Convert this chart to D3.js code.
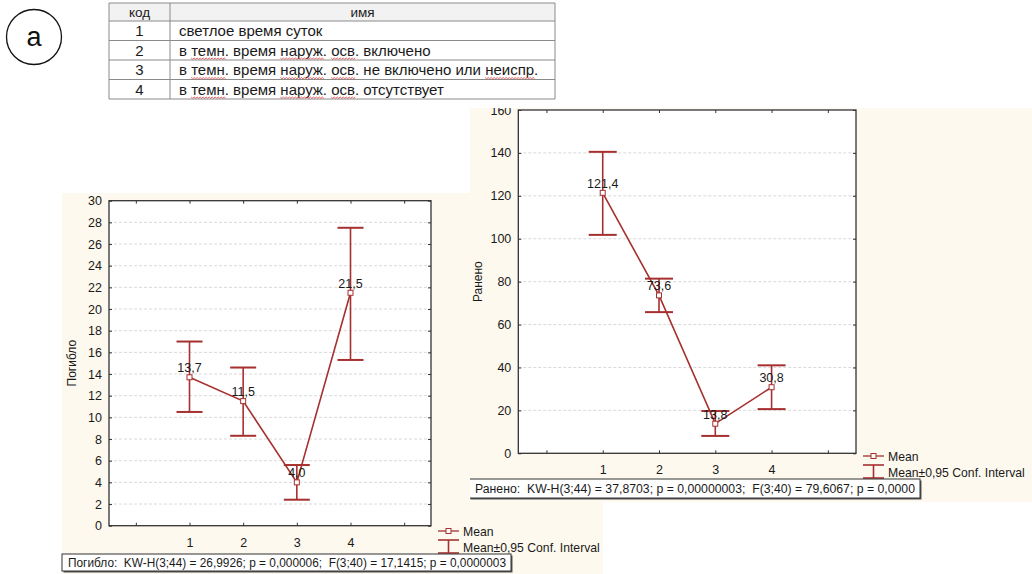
<!DOCTYPE html>
<html>
<head>
<meta charset="utf-8">
<script src="https://cdn.jsdelivr.net/npm/d3@7"></script>
<style>
body{margin:0;background:#fff;}
svg{display:block;font-family:"Liberation Sans",Arial,sans-serif;}
text{white-space:pre;}
</style>
</head>
<body>
<div id="fig"></div>
<script>
// table of codes
var tblHead=["код","имя"];
var tblCodes=["1","2","3","4"];
var tblNames=["светлое время суток","в темн. время наруж. осв. включено",
  "в темн. время наруж. осв. не включено или неиспр.","в темн. время наруж. осв. отсутствует"];
var spellWords=["темн.","наруж.","осв.","неиспр."];

// x categories (codes), shown ticks 0..5, labels only 1..4
var cats=[1,2,3,4];
var xTicks=[0,1,2,3,4,5];

// Погибло
var kMean=[13.7,11.5,4.0,21.5];
var kLo=[10.5,8.3,2.4,15.3];
var kHi=[17.0,14.6,5.6,27.5];
var kTicks=[0,2,4,6,8,10,12,14,16,18,20,22,24,26,28,30];
var kStat="Погибло:  KW-H(3;44) = 26,9926; p = 0,000006;  F(3;40) = 17,1415; p = 0,0000003";

// Ранено
var rMean=[121.4,73.6,13.8,30.8];
var rLo=[101.8,65.8,8.1,20.6];
var rHi=[140.5,81.4,19.7,41.0];
var rTicks=[0,20,40,60,80,100,120,140,160];
var rStat="Ранено:  KW-H(3;44) = 37,8703; p = 0,00000003;  F(3;40) = 79,6067; p = 0,0000";

var legendLbl=["Mean","Mean±0,95 Conf. Interval"];

var red="#a5302f", cream="#fdf9ee", ink="#1a1a1a";
var W=1032,H=574;
var svg=d3.select("#fig").append("svg").attr("width",W).attr("height",H);
svg.append("rect").attr("width",W).attr("height",H).attr("fill","#fff");

// circled "a"
svg.append("circle").attr("cx",34).attr("cy",37).attr("r",27.5)
   .attr("fill","none").attr("stroke","#111").attr("stroke-width",1.3);
svg.append("text").attr("x",34).attr("y",46).attr("text-anchor","middle")
   .attr("font-size",27).attr("fill","#111").text("а");

// table
var tx0=109,tx1=170,tx2=555,ty0=3,hh0=18,rh=19.5;
var tbl=svg.append("g");
tbl.append("rect").attr("x",tx0).attr("y",ty0).attr("width",tx2-tx0).attr("height",hh0)
   .attr("fill","#f2f2f2");
tbl.selectAll("line.h").data(d3.range(tblCodes.length+2)).enter().append("line")
   .attr("x1",tx0).attr("x2",tx2)
   .attr("y1",function(i){return i==0?ty0:ty0+hh0+(i-1)*rh;})
   .attr("y2",function(i){return i==0?ty0:ty0+hh0+(i-1)*rh;})
   .attr("stroke","#8a8a8a");
var tyEnd=ty0+hh0+tblCodes.length*rh;
[tx0,tx1,tx2].forEach(function(xx){
  tbl.append("line").attr("x1",xx).attr("x2",xx).attr("y1",ty0).attr("y2",tyEnd).attr("stroke","#8a8a8a");
});
tbl.append("text").attr("x",(tx0+tx1)/2).attr("y",ty0+13.5).attr("text-anchor","middle")
   .attr("font-size",13.5).attr("fill",ink).text(tblHead[0]);
tbl.append("text").attr("x",(tx1+tx2)/2).attr("y",ty0+13.5).attr("text-anchor","middle")
   .attr("font-size",13.5).attr("fill",ink).text(tblHead[1]);
tbl.selectAll("text.c").data(tblCodes).enter().append("text")
   .attr("x",(tx0+tx1)/2).attr("y",function(d,i){return ty0+hh0+i*rh+15;})
   .attr("text-anchor","middle").attr("font-size",15).attr("fill",ink).text(function(d){return d;});
var names=tbl.selectAll("text.n").data(tblNames).enter().append("text")
   .attr("x",tx1+9).attr("y",function(d,i){return ty0+hh0+i*rh+15;})
   .attr("font-size",15).attr("fill",ink).text(function(d){return d;});
// red wavy spell-check underlines
names.each(function(d,i){
  var node=this, by=ty0+hh0+i*rh+17.5;
  spellWords.forEach(function(w){
    var idx=d.indexOf(w);
    if(idx<0) return;
    var x0=tx1+9+(idx>0?node.getSubStringLength(0,idx):0);
    var wl=node.getSubStringLength(idx,w.length-1);
    var p=d3.path(); p.moveTo(x0,by);
    for(var k=0,xx=x0;xx<x0+wl;k++){xx+=1.5;p.lineTo(xx,by+(k%2?0:1.3));}
    tbl.append("path").attr("d",p.toString()).attr("fill","none")
       .attr("stroke","#e05050").attr("stroke-width",0.9);
  });
});

var fmt=function(v){return d3.format(".1f")(v).replace(".",",");};

function drawChart(g,o){
  var x=d3.scaleLinear().domain([-0.5,5.5]).range([o.l,o.r]);
  var y=d3.scaleLinear().domain([0,o.yMax]).range([o.b,o.t]);
  g.append("rect").attr("x",o.l).attr("y",o.t).attr("width",o.r-o.l).attr("height",o.b-o.t)
   .attr("fill","#fff");
  // grid
  g.selectAll("line.grid").data(o.ticks.slice(1,-1)).enter().append("line")
   .attr("x1",o.l).attr("x2",o.r).attr("y1",y).attr("y2",y)
   .attr("stroke","#cfcfcf").attr("stroke-dasharray","3,2").attr("stroke-width",0.8);
  g.append("g").attr("transform","translate("+o.l+",0)")
   .call(d3.axisLeft(y).tickValues(o.ticks).tickSize(-3).tickPadding(7));
  g.append("g").attr("transform","translate("+o.r+",0)")
   .call(d3.axisRight(y).tickValues(o.ticks).tickSize(-3).tickFormat(""));
  g.append("g").attr("transform","translate(0,"+o.b+")")
   .call(d3.axisBottom(x).tickValues(xTicks).tickSize(-3).tickPadding(12)
     .tickFormat(function(d){return cats.indexOf(d)>=0?d:"";}));
  g.append("g").attr("transform","translate(0,"+o.t+")")
   .call(d3.axisTop(x).tickValues(xTicks).tickSize(-3).tickFormat(""));
  g.selectAll(".domain").remove();
  g.selectAll(".tick line").attr("stroke","#333");
  g.selectAll(".tick text").attr("font-size",12.5).attr("fill",ink)
   .attr("font-family","'Liberation Sans',Arial,sans-serif");
  g.append("rect").attr("x",o.l).attr("y",o.t).attr("width",o.r-o.l).attr("height",o.b-o.t)
   .attr("fill","none").attr("stroke","#333").attr("stroke-width",1.3);
  // y label
  g.append("text").attr("transform","translate("+o.yl+","+((o.t+o.b)/2)+") rotate(-90)")
   .attr("text-anchor","middle").attr("font-size",12).attr("fill",ink).text(o.label);
  // error bars
  var eb=g.selectAll("g.eb").data(cats).enter().append("g");
  eb.append("line").attr("x1",function(d){return x(d);}).attr("x2",function(d){return x(d);})
   .attr("y1",function(d,i){return y(o.lo[i]);}).attr("y2",function(d,i){return y(o.hi[i]);})
   .attr("stroke",red).attr("stroke-width",1.6);
  ["lo","hi"].forEach(function(k){
    eb.append("line").attr("x1",function(d){return x(d)-o.cap;}).attr("x2",function(d){return x(d)+o.cap;})
     .attr("y1",function(d,i){return y(o[k][i]);}).attr("y2",function(d,i){return y(o[k][i]);})
     .attr("stroke",red).attr("stroke-width",2);
  });
  var line=d3.line().x(function(d){return x(d[0]);}).y(function(d){return y(d[1]);});
  g.append("path").datum(cats.map(function(c,i){return [c,o.mean[i]];}))
   .attr("d",line).attr("fill","none").attr("stroke",red).attr("stroke-width",1.6);
  g.selectAll("rect.pt").data(cats).enter().append("rect")
   .attr("x",function(d){return x(d)-2.5;}).attr("y",function(d,i){return y(o.mean[i])-2.5;})
   .attr("width",5).attr("height",5).attr("fill","#fff").attr("stroke",red).attr("stroke-width",1);
  g.selectAll("text.val").data(cats).enter().append("text")
   .attr("x",function(d){return x(d);}).attr("y",function(d,i){return y(o.mean[i])-5;})
   .attr("text-anchor","middle").attr("font-size",12.5).attr("fill",ink)
   .text(function(d,i){return fmt(o.mean[i]);});
  // legend
  var lg=g.append("g").attr("transform","translate("+o.lgx+","+o.lgy+")");
  lg.append("line").attr("x1",0).attr("x2",21).attr("y1",0).attr("y2",0).attr("stroke",red).attr("stroke-width",1.3);
  lg.append("rect").attr("x",8).attr("y",-2.5).attr("width",5).attr("height",5)
   .attr("fill","#fff").attr("stroke",red);
  lg.append("text").attr("x",25).attr("y",4.5).attr("font-size",12.2).attr("fill",ink).text(legendLbl[0]);
  var ci=lg.append("g").attr("transform","translate(0,9)");
  ci.append("line").attr("x1",0).attr("x2",21).attr("y1",0).attr("y2",0).attr("stroke",red).attr("stroke-width",1.6);
  ci.append("line").attr("x1",0).attr("x2",21).attr("y1",13).attr("y2",13).attr("stroke",red).attr("stroke-width",1.6);
  ci.append("line").attr("x1",10.5).attr("x2",10.5).attr("y1",0).attr("y2",13).attr("stroke",red).attr("stroke-width",1.6);
  lg.append("text").attr("x",25).attr("y",20.5).attr("font-size",12.2).attr("fill",ink).text(legendLbl[1]);
  // stats box
  var sb=g.append("g");
  sb.append("rect").attr("x",o.sx+1.5).attr("y",o.sy+1.5).attr("width",o.sw).attr("height",o.sh).attr("fill","#555");
  sb.append("rect").attr("x",o.sx).attr("y",o.sy).attr("width",o.sw).attr("height",o.sh)
   .attr("fill","#fff").attr("stroke","#333").attr("stroke-width",1);
  sb.append("text").attr("x",o.sx+6).attr("y",o.sy+o.sh/2+4.5).attr("font-size",12.3).attr("fill",ink)
   .attr("textLength",o.sw-11).attr("lengthAdjust","spacingAndGlyphs")
   .text(o.stat);
}

// left chart
svg.append("rect").attr("x",62).attr("y",193).attr("width",541).attr("height",381).attr("fill",cream);
drawChart(svg.append("g"),{l:109,r:431,t:200.7,b:525.7,yMax:30,ticks:kTicks,mean:kMean,lo:kLo,hi:kHi,
  cap:13,label:"Погибло",yl:76,lgx:438,lgy:531,sx:62,sy:554,sw:449,sh:17,stat:kStat});

// right chart, panel on top, clipped
svg.append("clipPath").attr("id","rc").append("rect").attr("x",470).attr("y",108).attr("width",562).attr("height",394);
var rg=svg.append("g").attr("clip-path","url(#rc)");
rg.append("rect").attr("x",470).attr("y",108).attr("width",562).attr("height",394).attr("fill",cream);
drawChart(rg,{l:518.3,r:856,t:110,b:453.3,yMax:160,ticks:rTicks,mean:rMean,lo:rLo,hi:rHi,
  cap:14,label:"Ранено",yl:482,lgx:863,lgy:456,sx:469,sy:479,sw:451,sh:19,stat:rStat});
</script>
</body>
</html>
